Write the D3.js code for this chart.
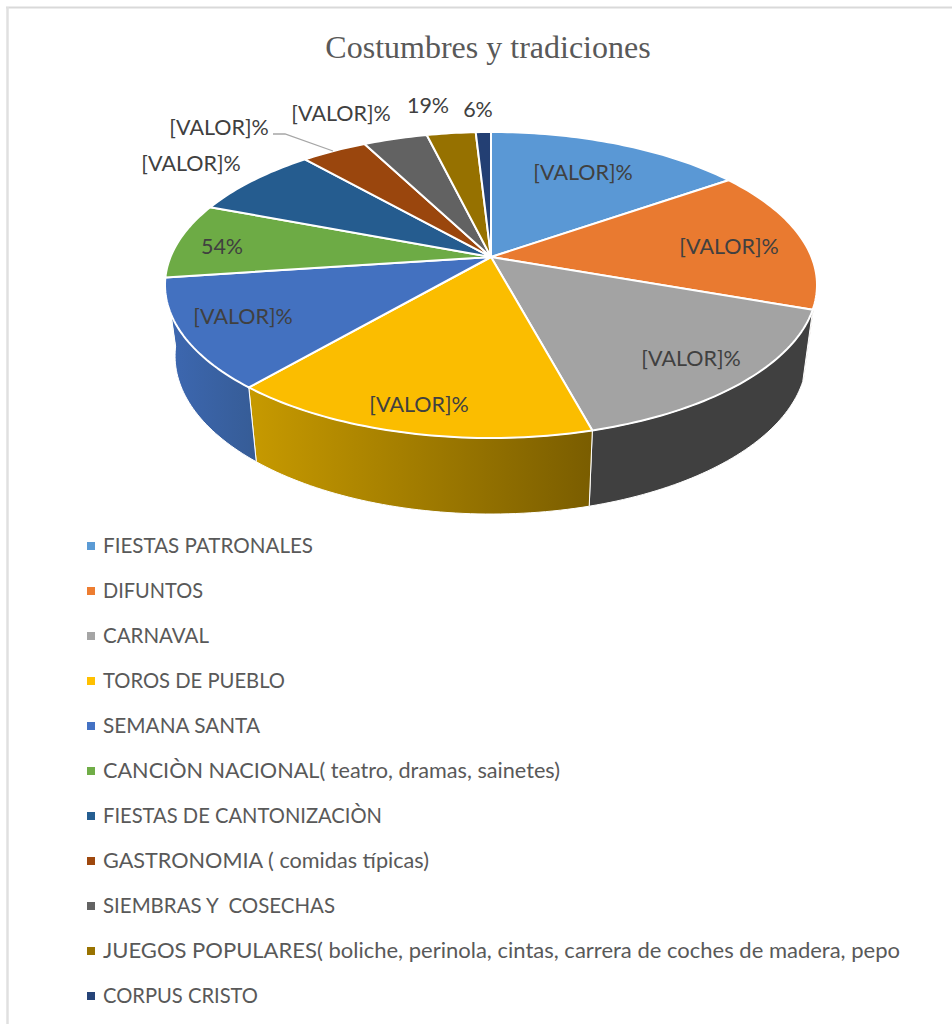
<!DOCTYPE html>
<html>
<head>
<meta charset="utf-8">
<script src="https://cdn.jsdelivr.net/npm/d3@7"></script>
<style>
  html, body { margin: 0; padding: 0; background: #fff; }
  svg { display: block; }
</style>
</head>
<body>
<div id="chart"></div>
<script>
const titulo = "Costumbres y tradiciones";

const categorias = [
  "FIESTAS PATRONALES",
  "DIFUNTOS",
  "CARNAVAL",
  "TOROS DE PUEBLO",
  "SEMANA SANTA",
  "CANCIÒN NACIONAL( teatro, dramas, sainetes)",
  "FIESTAS DE CANTONIZACIÒN",
  "GASTRONOMIA ( comidas típicas)",
  "SIEMBRAS Y  COSECHAS",
  "JUEGOS POPULARES( boliche, perinola, cintas, carrera de coches de madera, pepo",
  "CORPUS CRISTO",
];

const valores = [15.3, 15.2, 15.4, 15.5, 11.6, 8.0, 7.7, 3.9, 3.8, 2.9, 0.9];

const etiquetas = [
  "[VALOR]%", "[VALOR]%", "[VALOR]%", "[VALOR]%", "[VALOR]%", "54%",
  "[VALOR]%", "[VALOR]%", "[VALOR]%", "19%", "6%",
];

const colores = [
  "#5b9bd5", "#ed7d31", "#a5a5a5", "#ffc000", "#4472c4", "#70ad47",
  "#255e91", "#9e480e", "#636363", "#997300", "#264478",
];

// la tapa del pastel sale un poco mas apagada que la leyenda
const coloresTapa = [
  "#5a98d5", "#e97a30", "#a3a3a3", "#fbbd00", "#4371c0", "#6dab45",
  "#255c8f", "#9a460d", "#626262", "#967100", "#233f73",
];

// color de la pared lateral: inicio y fin del degradado
const paredes = [
  ["#3f6f9c", "#3f6f9c"],
  ["#5e2f0c", "#5e2f0c"],
  ["#404040", "#404040"],
  ["#c79a00", "#7a5d00"],
  ["#3d68b2", "#365c96"],
  ["#4c7a30", "#4c7a30"],
  ["#1a4268", "#1a4268"],
  ["#6f3209", "#6f3209"],
  ["#454545", "#454545"],
  ["#6b5100", "#6b5100"],
  ["#1a3055", "#1a3055"],
];

// centro de cada etiqueta en pantalla
const etiquetaPos = [
  [583, 172], [729, 246], [691, 358], [419, 404], [243, 316], [222, 246],
  [191, 163], [219, 127], [341, 113], [428, 105], [478, 109],
];

// ancho de cada texto de la leyenda en el original (Calibri)
const leyendaAncho = [210, 100, 106, 182, 157, 457, 279, 326, 232, 797, 155];

const width = 952, height = 1024;

const svg = d3
  .select("#chart")
  .append("svg")
  .attr("width", width)
  .attr("height", height);

// marco del grafico
svg
  .append("line")
  .attr("x1", 6)
  .attr("x2", width)
  .attr("y1", 7.5)
  .attr("y2", 7.5)
  .attr("stroke", "#d9d9d9")
  .attr("stroke-width", 2);

svg
  .append("line")
  .attr("x1", 7.5)
  .attr("x2", 7.5)
  .attr("y1", 7)
  .attr("y2", height)
  .attr("stroke", "#e0e0e0")
  .attr("stroke-width", 2.5);

svg
  .append("text")
  .attr("x", 488)
  .attr("y", 58)
  .attr("text-anchor", "middle")
  .style("font-family", "'Liberation Serif', serif")
  .style("font-size", "32px")
  .style("fill", "#595959")
  .text(titulo);

// Proyeccion con perspectiva: el centro del pastel no cae en el centro de la elipse
const cx = 491;
const k = 0.183;
const tapa = { y: 257, a: 320.5, b: 147.9 };
const base = { y: 327, a: 310.6, b: 152.8 };

function proyectar(angulo, nivel) {
  const u = Math.sin(angulo);
  const v = -Math.cos(angulo);
  const w = 1 - k * v;
  return [cx + (nivel.a * u) / w, nivel.y + (nivel.b * v) / w];
}

const pie = d3
  .pie()
  .sort(null)
  .value((d) => d);

const arcos = pie(valores);

function borde(a0, a1, nivel) {
  const pasos = Math.max(2, Math.ceil((a1 - a0) / 0.02));
  return d3.range(pasos + 1).map((i) => proyectar(a0 + ((a1 - a0) * i) / pasos, nivel));
}

const linea = d3.line();
const defs = svg.append("defs");

// solo se ven las paredes de la parte delantera
const desde = Math.PI * 0.6;
const hasta = Math.PI * 1.46;

const visibles = arcos
  .map((d, i) => ({ a0: Math.max(d.startAngle, desde), a1: Math.min(d.endAngle, hasta), i }))
  .filter((d) => d.a1 > d.a0);

visibles.forEach((d) => {
  const puntos = borde(d.a0, d.a1, tapa).concat(borde(d.a0, d.a1, base).reverse());
  const xs = puntos.map((p) => p[0]);
  const grad = defs
    .append("linearGradient")
    .attr("id", `pared-${d.i}`)
    .attr("gradientUnits", "userSpaceOnUse")
    .attr("x1", d3.min(xs))
    .attr("x2", d3.max(xs))
    .attr("y1", 0)
    .attr("y2", 0);
  grad.append("stop").attr("offset", "0%").attr("stop-color", paredes[d.i][0]);
  grad.append("stop").attr("offset", "100%").attr("stop-color", paredes[d.i][1]);
  d.puntos = puntos;
});

svg
  .append("g")
  .selectAll("path")
  .data(visibles)
  .enter()
  .append("path")
  .attr("d", (d) => linea(d.puntos) + "Z")
  .attr("fill", (d) => `url(#pared-${d.i})`)
  .attr("stroke", "#fff")
  .attr("stroke-width", 1);

svg
  .append("g")
  .selectAll("path")
  .data(arcos)
  .enter()
  .append("path")
  .attr("d", (d) => {
    const puntos = [[cx, tapa.y]].concat(borde(d.startAngle, d.endAngle, tapa));
    return linea(puntos) + "Z";
  })
  .attr("fill", (d, i) => coloresTapa[i])
  .attr("stroke", "#fff")
  .attr("stroke-width", 2)
  .attr("stroke-linejoin", "round");

// linea guia de la etiqueta de gastronomia
svg
  .append("polyline")
  .attr("points", "273,134 285,134 333,151")
  .attr("fill", "none")
  .attr("stroke", "#a6a6a6")
  .attr("stroke-width", 1.3);

svg
  .append("g")
  .selectAll("text")
  .data(etiquetas)
  .enter()
  .append("text")
  .attr("x", (d, i) => etiquetaPos[i][0])
  .attr("y", (d, i) => etiquetaPos[i][1])
  .attr("dy", "0.35em")
  .attr("text-anchor", "middle")
  .style("font-family", "Lato, 'Open Sans', sans-serif")
  .style("font-size", "21.5px")
  .style("fill", "#404040")
  .text((d) => d);

// leyenda
const yLeyenda = d3.scalePoint().domain(categorias).range([546, 996]);

const leyenda = svg
  .append("g")
  .selectAll("g")
  .data(categorias)
  .enter()
  .append("g")
  .attr("transform", (d) => `translate(87,${yLeyenda(d)})`);

leyenda
  .append("rect")
  .attr("x", 0)
  .attr("y", -4)
  .attr("width", 8)
  .attr("height", 8)
  .attr("fill", (d, i) => colores[i]);

leyenda
  .append("text")
  .attr("x", 16)
  .attr("dy", "0.35em")
  .attr("textLength", (d, i) => leyendaAncho[i])
  .attr("lengthAdjust", "spacingAndGlyphs")
  .style("font-family", "Lato, 'Open Sans', sans-serif")
  .style("font-size", "21px")
  .style("white-space", "pre")
  .style("fill", "#595959")
  .text((d) => d);
</script>
</body>
</html>
